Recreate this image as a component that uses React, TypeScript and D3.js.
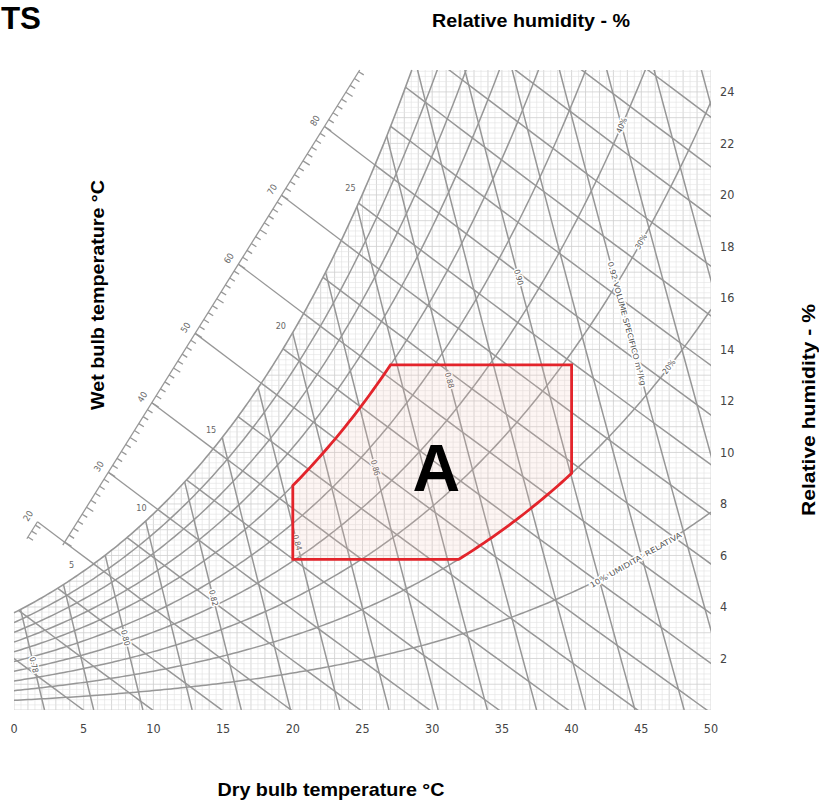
import React from "react";
import * as d3 from "d3";

// ---------- data ----------
const xTicks = [0, 5, 10, 15, 20, 25, 30, 35, 40, 45, 50];
const yTicks = [2, 4, 6, 8, 10, 12, 14, 16, 18, 20, 22, 24];
const rhLevels = [10, 20, 30, 40, 50, 60, 70, 80, 90];
const enthalpyLevels = [5, 10, 15, 20, 25, 30, 35, 40, 45, 50, 55, 60, 65, 70, 75, 80, 85, 90, 95, 100, 105, 110, 115];
const enthalpyScaleLevels = [20, 30, 40, 50, 60, 70, 80];
const volumeLevels = [0.78, 0.79, 0.8, 0.81, 0.82, 0.83, 0.84, 0.85, 0.86, 0.87, 0.88, 0.89, 0.9, 0.91, 0.92, 0.93, 0.94, 0.95];
const volumeLabelValues = [0.78, 0.8, 0.82, 0.84, 0.86, 0.88, 0.9, 0.92];
const volumeLabelTexts = ["0.78", "0.80", "0.82", "0.84", "0.86", "0.88", "0.90", "0.92 VOLUME SPECIFICO m³/kg"];
const wetBulbLabels = [5, 10, 15, 20, 25];
const rhLabelLevels = [10, 20, 30, 40];
const rhLabelTexts = ["10% UMIDITA' RELATIVA", "20%", "30%", "40%"];
const zoneTemp = [20, 40];
const zoneHumRatio = [5.85, 13.4];
const zoneRH = [20, 60];

// ---------- psychrometrics ----------
const P = 101.325;
const ps = (T: number) => 0.61094 * Math.exp((17.625 * T) / (T + 243.04));
const wOf = (pw: number) => (621.945 * pw) / (P - pw);
const wRH = (T: number, rh: number) => wOf((rh / 100) * ps(T));
const hOf = (T: number, w: number) => 1.006 * T + (w * (2501 + 1.86 * T)) / 1000;
const wH = (h: number, T: number) => (1000 * (h - 1.006 * T)) / (2501 + 1.86 * T);
const tV = (v: number, w: number) => (v * P) / (0.287042 * (1 + 0.0016078 * w)) - 273.15;
const solve = (f: (t: number) => number, lo: number, hi: number, target: number) => {
  let a = lo, b = hi;
  for (let i = 0; i < 60; i++) {
    const m = (a + b) / 2;
    if (f(m) < target) a = m; else b = m;
  }
  return (a + b) / 2;
};

export default function App() {
  const W = 819, H = 806;
  const x = d3.scaleLinear().domain([0, 50]).range([14, 711]);
  const y = d3.scaleLinear().domain([0, 24.85]).range([710, 70]);
  const [tMin, tMax] = x.domain();
  const [wMin, wMax] = y.domain();
  const line = d3.line<[number, number]>().x((d) => x(d[0])).y((d) => y(d[1]));

  const tSatTop = solve((T) => wRH(T, 100), tMin, tMax, wMax);
  const satPts: [number, number][] = d3.range(tMin, tSatTop, 0.2).map((T) => [T, wRH(T, 100)] as [number, number]);
  satPts.push([tSatTop, wMax]);
  const clipD = line([[tMin, wMin], ...satPts, [tMax, wMax], [tMax, wMin]] as [number, number][]) + "Z";

  // grid
  const vGrid = d3.range(tMin, tMax + 0.001, 0.5);
  const hGrid = d3.range(wMin, wMax, 0.2);

  // RH curves
  const rhPaths = rhLevels.map((rh) =>
    line(d3.range(tMin, tMax + 0.001, 0.25).map((T) => [T, wRH(T, rh)] as [number, number]))
  );
  // enthalpy lines
  const hPaths = enthalpyLevels.map((h) =>
    line(d3.range(-10, 61, 1).map((T) => [T, wH(h, T)] as [number, number]))
  );
  // volume lines
  const vPaths = volumeLevels.map((v) =>
    line(d3.range(0, 26, 0.5).map((w) => [tV(v, w), w] as [number, number]))
  );

  // enthalpy scale (straight axis outside the saturation curve)
  const scaleStart = { T: 3.5, w: 6.4 };
  const scaleEnd = { T: 24.8, w: wMax };
  const ax = x(scaleStart.T), ay = y(scaleStart.w), bx = x(scaleEnd.T), by = y(scaleEnd.w);
  const len = Math.hypot(bx - ax, by - ay);
  const ux = (bx - ax) / len, uy = (by - ay) / len; // along
  const nx = -uy, ny = ux; // perpendicular (pointing down-right)
  const angle = (Math.atan2(by - ay, bx - ax) * 180) / Math.PI;
  const hAtS = (s: number) => hOf(x.invert(ax + s * (bx - ax)), y.invert(ay + s * (by - ay)));
  const scalePt = (h: number) => {
    const s = solve(hAtS, 0, 1, h);
    return [ax + s * (bx - ax), ay + s * (by - ay)];
  };
  const hStart = Math.ceil(hAtS(0) - 0.01);
  const hEnd = Math.floor(hAtS(1));
  const scaleTicks = d3.range(hStart, hEnd + 1, 1);
  const hSatT = (h: number) => solve((T) => hOf(T, wRH(T, 100)), -5, 45, h);

  // zone A polygon
  const wTopZone = zoneHumRatio[1], wBotZone = zoneHumRatio[0];
  const tUpper = solve((T) => wRH(T, zoneRH[1]), zoneTemp[0], zoneTemp[1], wTopZone);
  const tLower = solve((T) => wRH(T, zoneRH[0]), 0, zoneTemp[1], wBotZone);
  const zonePts: [number, number][] = [[zoneTemp[0], wBotZone]];
  d3.range(zoneTemp[0], tUpper, 0.25).forEach((T) => zonePts.push([T, wRH(T, zoneRH[1])]));
  zonePts.push([tUpper, wTopZone], [zoneTemp[1], wTopZone]);
  d3.range(zoneTemp[1], tLower, -0.25).forEach((T) => zonePts.push([T, wRH(T, zoneRH[0])]));
  zonePts.push([tLower, wBotZone]);
  const zoneD = line(zonePts) + "Z";

  const lineColor = "#979797";
  const labelFont = "'DejaVu Sans Condensed', 'DejaVu Sans', sans-serif";
  const titleFont = "'Liberation Sans Narrow', 'Arial Narrow', 'Liberation Sans', Arial, sans-serif";

  // placements of labels along lines
  const volumeLabelW = [1.75, 2.8, 4.35, 6.5, 9.4, 12.8, 16.8, 15.0];
  const rhLabelT = [44.6, 47.0, 45.0, 43.6];

  const halo = { paintOrder: "stroke" as const, stroke: "#fff", strokeWidth: 3, strokeLinejoin: "round" as const };

  // h=20 extension piece
  const h20 = scalePt(enthalpyScaleLevels[0]);
  const h20sat = [x(hSatT(enthalpyScaleLevels[0])), y(wRH(hSatT(enthalpyScaleLevels[0]), 100))];
  const dxe = h20[0] - h20sat[0], dye = h20[1] - h20sat[1];
  const de = Math.hypot(dxe, dye);
  const extPt = [h20[0] + (dxe / de) * 34, h20[1] + (dye / de) * 34];

  return (
    <svg width={W} height={H} style={{ position: "absolute", left: 0, top: 0, background: "#fff" }}>
      <defs>
        <clipPath id="underSat">
          <path d={clipD} />
        </clipPath>
      </defs>

      {/* fine grid */}
      <g clipPath="url(#underSat)">
        {vGrid.map((T, i) => (
          <line key={"v" + i} x1={x(T)} x2={x(T)} y1={y(wMin)} y2={y(wMax)}
            stroke={i % 2 === 0 ? "#cdcdcd" : "#e0e0e0"} strokeWidth={i % 2 === 0 ? 0.8 : 0.6} />
        ))}
        {hGrid.map((w, i) => (
          <line key={"h" + i} x1={x(tMin)} x2={x(tMax)} y1={y(w)} y2={y(w)}
            stroke={i % 5 === 0 ? "#cfcfcf" : "#e2e2e2"} strokeWidth={i % 5 === 0 ? 0.8 : 0.6} />
        ))}
      </g>

      {/* main chart lines */}
      <g clipPath="url(#underSat)" fill="none" stroke={lineColor} strokeWidth={1.5}>
        {rhPaths.map((d, i) => <path key={"rh" + i} d={d || ""} />)}
        {hPaths.map((d, i) => <path key={"hl" + i} d={d || ""} />)}
        {vPaths.map((d, i) => <path key={"vl" + i} d={d || ""} />)}
      </g>
      <path d={line(satPts) || ""} fill="none" stroke={lineColor} strokeWidth={1.6} />

      {/* enthalpy scale */}
      <g stroke={lineColor} strokeWidth={1.3} fill="none">
        <line x1={ax} y1={ay} x2={bx} y2={by} />
        {scaleTicks.map((h) => {
          const [px, py] = scalePt(h);
          const l = h % 5 === 0 ? 8 : 6;
          return <line key={"t" + h} x1={px} y1={py} x2={px + nx * l} y2={py + ny * l} />;
        })}
        {enthalpyScaleLevels.map((h) => {
          const [px, py] = scalePt(h);
          const Ts = hSatT(h);
          return <line key={"wz" + h} x1={px} y1={py} x2={x(Ts)} y2={y(wRH(Ts, 100))} />;
        })}
        <line x1={h20[0]} y1={h20[1]} x2={extPt[0]} y2={extPt[1]} />
        <line x1={extPt[0]} y1={extPt[1]} x2={extPt[0] - ux * 20} y2={extPt[1] - uy * 20} />
        {[0, 1, 2].map((k) => {
          const px = extPt[0] - ux * (4 + k * 7), py = extPt[1] - uy * (4 + k * 7);
          return <line key={"et" + k} x1={px} y1={py} x2={px + nx * 6} y2={py + ny * 6} />;
        })}
      </g>
      <g fontFamily={labelFont} fontSize={9} fill="#666" textAnchor="middle" dominantBaseline="central">
        {enthalpyScaleLevels.map((h, i) => {
          const [px0, py0] = i === 0 ? extPt : scalePt(h);
          const px = px0 - nx * 11, py = py0 - ny * 11;
          return (
            <text key={"sl" + h} transform={`translate(${px},${py}) rotate(${angle})`}>{String(h)}</text>
          );
        })}
        {wetBulbLabels.map((T) => (
          <text key={"wb" + T} x={x(T) - 12} y={y(wRH(T, 100)) - 6} style={halo}>{String(T)}</text>
        ))}
      </g>

      {/* labels on lines */}
      <g fontFamily={labelFont} fontSize={8} fill="#555" textAnchor="middle" dominantBaseline="central">
        {volumeLabelValues.map((v, i) => {
          const w = volumeLabelW[i];
          const px = x(tV(v, w)), py = y(w);
          const px2 = x(tV(v, w - 1)), py2 = y(w - 1);
          const a = (Math.atan2(py2 - py, px2 - px) * 180) / Math.PI;
          const long = i === volumeLabelValues.length - 1;
          return (
            <text key={"vlab" + i} transform={`translate(${px},${py}) rotate(${a})`} style={halo}
              fontSize={long ? 7.5 : 8} textLength={long ? 128 : undefined} lengthAdjust="spacingAndGlyphs">
              {volumeLabelTexts[i]}
            </text>
          );
        })}
        {rhLabelLevels.map((rh, i) => {
          const T = rhLabelT[i];
          const px = x(T), py = y(wRH(T, rh));
          const px2 = x(T + 0.5), py2 = y(wRH(T + 0.5, rh));
          const a = (Math.atan2(py2 - py, px2 - px) * 180) / Math.PI;
          const long = i === 0;
          return (
            <text key={"rhl" + i} transform={`translate(${px},${py}) rotate(${a})`} style={halo}
              fontSize={long ? 7.5 : 8} textLength={long ? 104 : undefined} lengthAdjust="spacingAndGlyphs">
              {rhLabelTexts[i]}
            </text>
          );
        })}
      </g>

      {/* zone A */}
      <path d={zoneD} fill="rgba(245,190,180,0.16)" stroke="#e3242b" strokeWidth={2.8} strokeLinejoin="miter" />
      <text x={x(30.3)} y={y(8.5)} fontFamily="'Liberation Sans', Arial, sans-serif" fontWeight="bold"
        fontSize={66} textAnchor="middle" fill="#000">A</text>

      {/* axis tick labels */}
      <g fontFamily={labelFont} fontSize={12.5} fill="#444">
        {xTicks.map((t) => (
          <text key={"xt" + t} x={x(t)} y={733} textAnchor="middle">{String(t)}</text>
        ))}
        {yTicks.map((t) => (
          <text key={"yt" + t} x={720} y={y(t)} dominantBaseline="central">{String(t)}</text>
        ))}
      </g>

      {/* titles */}
      <g fontFamily={titleFont} fontWeight="bold" fill="#000">
        <text x={1} y={29} fontSize={32} textLength={40} lengthAdjust="spacingAndGlyphs">TS</text>
        <text x={432} y={27} fontSize={19} textLength={198} lengthAdjust="spacingAndGlyphs">Relative humidity - %</text>
        <text transform="translate(104,295) rotate(-90)" fontSize={19} textAnchor="middle" textLength={230}
          lengthAdjust="spacingAndGlyphs">Wet bulb temperature °C</text>
        <text transform="translate(815,410) rotate(-90)" fontSize={19} textAnchor="middle" textLength={212}
          lengthAdjust="spacingAndGlyphs">Relative humidity - %</text>
        <text x={331} y={796} fontSize={19} textAnchor="middle" textLength={227}
          lengthAdjust="spacingAndGlyphs">Dry bulb temperature °C</text>
      </g>
    </svg>
  );
}
